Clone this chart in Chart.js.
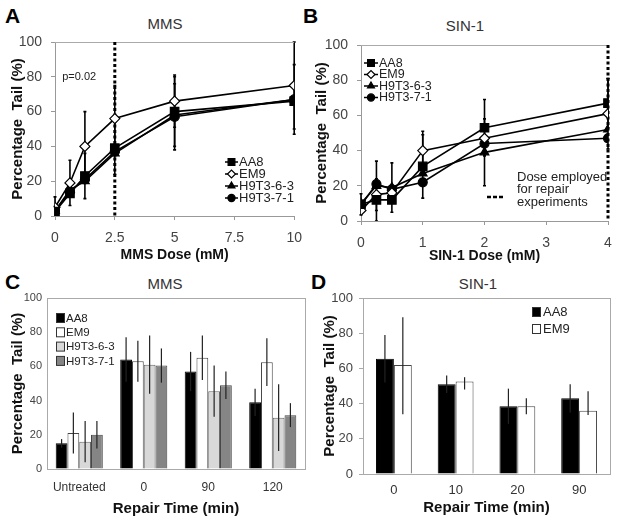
<!DOCTYPE html>
<html><head><meta charset="utf-8">
<script src="https://cdn.jsdelivr.net/npm/chart.js@4.4.1/dist/chart.umd.min.js"></script>
<style>
html,body{margin:0;padding:0;background:#fff;width:624px;height:521px;overflow:hidden;font-family:'Liberation Sans',Arial,sans-serif}
.p{position:absolute}
.lab{position:absolute;font-weight:bold;font-size:21px;color:#000;line-height:1}
.ttl{position:absolute;font-size:15px;color:#333;line-height:1;transform:translateX(-50%)}
</style></head><body>
<div class="lab" style="left:5px;top:5px">A</div>
<div class="lab" style="left:303px;top:5px">B</div>
<div class="lab" style="left:5px;top:271px">C</div>
<div class="lab" style="left:311px;top:271px">D</div>
<div class="ttl" style="left:165px;top:16px">MMS</div>
<div class="ttl" style="left:465px;top:18px">SIN-1</div>
<div class="ttl" style="left:165px;top:276px">MMS</div>
<div class="ttl" style="left:478px;top:276px">SIN-1</div>
<div class="p" style="left:0;top:0;width:312px;height:264px"><canvas id="cA"></canvas></div>
<div class="p" style="left:312px;top:0;width:312px;height:265px"><canvas id="cB"></canvas></div>
<div class="p" style="left:0;top:262px;width:312px;height:259px"><canvas id="cC"></canvas></div>
<div class="p" style="left:312px;top:262px;width:312px;height:259px"><canvas id="cD"></canvas></div>
<script>
// ---------- DATA ----------
const seriesNames = ['AA8', 'EM9', 'H9T3-6-3', 'H9T3-7-1'];
// Panel A: MMS dose response
const doseMMS = [0, 0.625, 1.25, 2.5, 5, 10];
const mmsAA8 = [2.5, 13, 23, 39, 60, 66];
const mmsEM9 = [5, 19, 40, 56, 66, 75];
const mmsH63 = [3, 15, 20, 36, 58, 67];
const mmsH71 = [3, 14, 21, 37, 57, 67];
const mmsAA8Err = [3, 0, 13, 15, 20, 0];
const mmsEM9Err = [6, 13, 20, 19, 15, 25];
const mmsH63Err = [0, 0, 0, 0, 0, 20];
const mmsH71Err = [0, 0, 0, 0, 19, 0];
const mmsDoseEmployed = 2.5;
const mmsXTicks = [0, 2.5, 5, 7.5, 10];
// Panel B: SIN-1 dose response
const doseSIN = [0, 0.25, 0.5, 1, 2, 4];
const sinAA8 = [9.5, 12, 12, 31, 53, 67];
const sinEM9 = [6, 15, 16, 40, 47, 61];
const sinH63 = [10, 20, 19, 27, 39, 52];
const sinH71 = [9, 21, 18, 22, 44, 47];
const sinAA8Err = [6, 12, 0, 18, 16, 14];
const sinEM9Err = [0, 0, 0, 11, 0, 20];
const sinH63Err = [0, 14, 14, 0, 19, 0];
const sinH71Err = [0, 0, 0, 0, 0, 0];
const sinDoseEmployed = 4;
// Panel C: MMS repair
const repairC = ['Untreated', '0', '90', '120'];
const cAA8 = [15, 64, 57, 39];
const cEM9 = [21, 63, 65, 62.5];
const cH63 = [16, 61, 45.5, 30];
const cH71 = [20, 60.5, 49, 31.5];
const cAA8Err = [2.5, 13, 11.5, 8];
const cEM9Err = [12, 12, 13, 14];
const cH63Err = [12, 17, 15, 19.5];
const cH71Err = [8, 10, 8, 7];
// Panel D: SIN-1 repair
const repairD = ['0', '10', '20', '90'];
const dAA8 = [65.5, 51, 38.5, 43];
const dEM9 = [62, 52.5, 38.5, 36];
const dAA8Err = [13.5, 5, 10, 8];
const dEM9ErrHi = [27, 2.5, 4.5, 11];
const dEM9ErrLo = [28, 4.5, 4.5, 2.5];
const yTitle = 'Percentage  Tail (%)';

// ---------- PLUGINS ----------
const FONT = "'Liberation Sans', Arial, sans-serif";
function drawErrors(chart) {
  const o = chart.options.plugins.errorBars || {};
  const ctx = chart.ctx, ys = chart.scales.y, ca = chart.chartArea;
  ctx.save();
  ctx.beginPath(); ctx.rect(ca.left - 5, ca.top - 1, ca.right - ca.left + 10, ca.bottom - ca.top + 1); ctx.clip();
  chart.data.datasets.forEach((ds, i) => {
    if (!ds.errHi) return;
    const meta = chart.getDatasetMeta(i);
    meta.data.forEach((el, j) => {
      const raw = ds.data[j]; const v = (typeof raw === 'object') ? raw.y : raw;
      const hi = ds.errHi[j], lo = ds.errLo ? ds.errLo[j] : hi;
      if (!hi && !lo) return;
      const x = el.x, y1 = ys.getPixelForValue(v + hi), y2 = ys.getPixelForValue(v - lo);
      ctx.strokeStyle = o.color || '#000'; ctx.lineWidth = o.width || 1.5;
      ctx.beginPath(); ctx.moveTo(x, y1); ctx.lineTo(x, y2);
      if (o.cap) { ctx.moveTo(x - o.cap, y1); ctx.lineTo(x + o.cap, y1); ctx.moveTo(x - o.cap, y2); ctx.lineTo(x + o.cap, y2); }
      ctx.stroke();
    });
  });
  ctx.restore();
}
const errorBarsPlugin = {
  id: 'errorBars',
  beforeDatasetsDraw(chart) { if (chart.config.type === 'line') drawErrors(chart); },
  afterDatasetsDraw(chart) { if (chart.config.type === 'bar') drawErrors(chart); }
};
const extrasPlugin = {
  id: 'extras',
  beforeDatasetsDraw(chart) {
    const o = chart.options.plugins.extras || {};
    const ctx = chart.ctx, ca = chart.chartArea;
    ctx.save();
    if (o.box) {
      ctx.strokeStyle = o.box; ctx.lineWidth = 1;
      ctx.strokeRect(ca.left + 0.5, ca.top + 0.5, ca.right - ca.left, ca.bottom - ca.top);
    }
    if (o.topLine) {
      ctx.strokeStyle = o.topLine; ctx.lineWidth = 1;
      ctx.beginPath(); ctx.moveTo(ca.left, ca.top + 0.5); ctx.lineTo(ca.right, ca.top + 0.5); ctx.stroke();
    }
    if (o.refX !== undefined) {
      const x = chart.scales.x.getPixelForValue(o.refX);
      ctx.strokeStyle = '#000'; ctx.lineWidth = 3; ctx.setLineDash([3, 2.5]);
      ctx.beginPath(); ctx.moveTo(x, chart.scales.y.getPixelForValue(100)); ctx.lineTo(x, chart.scales.y.getPixelForValue(0)); ctx.stroke();
      ctx.setLineDash([]);
    }
    ctx.restore();
  },
  afterDraw(chart) {
    const o = chart.options.plugins.extras || {};
    const ctx = chart.ctx;
    ctx.save();
    ctx.fillStyle = '#222'; ctx.textBaseline = 'middle';
    if (o.legend) {
      const L = o.legend;
      ctx.font = L.font + 'px ' + FONT;
      chart.data.datasets.forEach((ds, i) => {
        const y = L.y + i * L.gap;
        if (L.kind === 'line') {
          ctx.strokeStyle = '#000'; ctx.lineWidth = 1.5;
          ctx.beginPath(); ctx.moveTo(L.x, y); ctx.lineTo(L.x + L.len, y); ctx.stroke();
          ctx.fillStyle = ds.pointBackgroundColor; ctx.strokeStyle = '#000'; ctx.lineWidth = 1.2;
          Chart.helpers.drawPoint(ctx, {pointStyle: ds.pointStyle, radius: ds.pointRadius * 0.8, borderWidth: 1.2, rotation: 0}, L.x + L.len / 2, y);
          ctx.fillStyle = '#222';
          ctx.fillText(ds.label, L.x + L.len + 1, y + 0.5);
        } else {
          ctx.fillStyle = ds.backgroundColor; ctx.strokeStyle = '#333'; ctx.lineWidth = 1;
          ctx.fillRect(L.x + 0.5, y - 4.5, 8, 9); ctx.strokeRect(L.x + 0.5, y - 4.5, 8, 9);
          ctx.fillStyle = '#222';
          ctx.fillText(ds.label, L.x + L.tx, y + 0.5);
        }
      });
    }
    if (o.note) {
      const N = o.note;
      ctx.font = N.font + 'px ' + FONT; ctx.textAlign = 'left';
      N.lines.forEach((t, i) => ctx.fillText(t, N.x, N.y + i * N.gap));
      if (N.dash) {
        ctx.strokeStyle = '#000'; ctx.lineWidth = 2.5; ctx.setLineDash([4, 2]);
        ctx.beginPath(); ctx.moveTo(N.dash[0], N.dash[2]); ctx.lineTo(N.dash[1], N.dash[2]); ctx.stroke();
        ctx.setLineDash([]);
      }
    }
    if (o.text) {
      const T = o.text;
      ctx.font = T.font + 'px ' + FONT; ctx.textAlign = 'left';
      ctx.fillText(T.str, chart.scales.x.getPixelForValue(T.x), chart.scales.y.getPixelForValue(T.y));
    }
    ctx.restore();
  }
};
Chart.register(errorBarsPlugin, extrasPlugin);
Chart.defaults.font.family = FONT;
Chart.defaults.animation = false;

function lineDs(label, xs, ys, errs, style, radius, fill) {
  return {
    label, data: xs.map((x, i) => ({x, y: ys[i]})), errHi: errs,
    borderColor: '#000', borderWidth: 1.6, tension: 0,
    pointStyle: style, pointRadius: radius, pointBackgroundColor: fill,
    pointBorderColor: '#000', pointBorderWidth: 1.2
  };
}
function lineOpts(cfg) {
  return {
    responsive: true, maintainAspectRatio: false,
    layout: {padding: cfg.pad},
    plugins: {legend: {display: false}, tooltip: {enabled: false},
      errorBars: {color: '#000', width: 1.6, cap: 1.5}, extras: cfg.extras},
    scales: {
      x: {type: 'linear', min: cfg.xmin, max: cfg.xmax,
        afterFit: s => { s.height = cfg.xh; },
        afterBuildTicks: s => { if (cfg.xticks) s.ticks = cfg.xticks.map(v => ({value: v})); },
        ticks: {stepSize: cfg.xstep, color: '#444', font: {size: 14}, padding: cfg.xtp, maxRotation: 0},
        grid: {drawOnChartArea: false, drawTicks: true, tickLength: 4, color: '#999'},
        border: {color: '#999'},
        title: {display: true, text: cfg.xtitle, color: '#111', font: {size: 14, weight: 'bold'}, padding: {top: 0, bottom: cfg.xtb}}},
      y: {min: 0, max: 100,
        afterFit: s => { s.width = cfg.yw; },
        ticks: {stepSize: 20, color: '#444', font: {size: 14}, padding: cfg.ytp},
        grid: {drawOnChartArea: false, drawTicks: true, tickLength: 4, color: '#999'},
        border: {color: '#999'},
        title: {display: true, text: yTitle, color: '#111', font: {size: 15, weight: 'bold'}, padding: {top: cfg.ytt, bottom: 0}}}
    }
  };
}

new Chart(document.getElementById('cA'), {
  type: 'line',
  data: {datasets: [
    lineDs(seriesNames[0], doseMMS, mmsAA8, mmsAA8Err, 'rect', 6, '#000'),
    lineDs(seriesNames[1], doseMMS, mmsEM9, mmsEM9Err, 'rectRot', 5, '#fff'),
    lineDs(seriesNames[2], doseMMS, mmsH63, mmsH63Err, 'triangle', 5, '#000'),
    lineDs(seriesNames[3], doseMMS, mmsH71, mmsH71Err, 'circle', 4.5, '#000')
  ]},
  options: lineOpts({pad: {top: 42, right: 12, left: 0, bottom: 0}, xmin: 0, xmax: 10, xticks: mmsXTicks,
    xh: 48, xtp: 10, xtb: 0, xtitle: 'MMS Dose (mM)', yw: 55, ytp: 9, ytt: 9,
    extras: {topLine: '#aaa', refX: mmsDoseEmployed,
      legend: {kind: 'line', x: 225, y: 162, gap: 12, len: 13, font: 13},
      text: {str: 'p=0.02', x: 0.3, y: 80, font: 11}}})
});

new Chart(document.getElementById('cB'), {
  type: 'line',
  data: {datasets: [
    lineDs(seriesNames[0], doseSIN, sinAA8, sinAA8Err, 'rect', 6, '#000'),
    lineDs(seriesNames[1], doseSIN, sinEM9, sinEM9Err, 'rectRot', 5, '#fff'),
    lineDs(seriesNames[2], doseSIN, sinH63, sinH63Err, 'triangle', 5, '#000'),
    lineDs(seriesNames[3], doseSIN, sinH71, sinH71Err, 'circle', 4.5, '#000')
  ]},
  options: lineOpts({pad: {top: 45, right: 16, left: 0, bottom: 0}, xmin: 0, xmax: 4, xstep: 1,
    xh: 44, xtp: 10, xtb: 0, xtitle: 'SIN-1 Dose (mM)', yw: 49, ytp: 9, ytt: 1,
    extras: {topLine: '#aaa', refX: sinDoseEmployed,
      legend: {kind: 'line', x: 52, y: 63, gap: 11.5, len: 14, font: 12.5},
      note: {lines: ['Dose employed', 'for repair', 'experiments'], x: 205, y: 177, gap: 12.5, font: 13, dash: [175, 192, 197]}}})
});

function barDs(label, vals, hi, lo, fill, border) {
  return {label, data: vals, errHi: hi, errLo: lo, backgroundColor: fill, borderColor: border, borderWidth: 1,
    barPercentage: 1};
}
function barOpts(cfg) {
  return {
    responsive: true, maintainAspectRatio: false,
    layout: {padding: cfg.pad},
    datasets: {bar: {categoryPercentage: cfg.cat, barPercentage: 1}},
    plugins: {legend: {display: false}, tooltip: {enabled: false},
      errorBars: {color: '#222', width: 1.2, cap: 0}, extras: cfg.extras},
    scales: {
      x: {afterFit: s => { s.height = cfg.xh; },
        ticks: {color: '#333', font: {size: cfg.xfs}, padding: cfg.xtp},
        grid: {display: false, drawTicks: false},
        border: {color: '#aaa'},
        title: {display: true, text: 'Repair Time (min)', color: '#111', font: {size: 15, weight: 'bold'}, padding: {top: 0, bottom: cfg.xtb}}},
      y: {min: 0, max: 100,
        afterFit: s => { s.width = cfg.yw; },
        ticks: {stepSize: 20, color: '#444', font: {size: cfg.yfs}, padding: cfg.ytp},
        grid: {drawOnChartArea: false, drawTicks: cfg.yticks, tickLength: 4, color: '#aaa'},
        border: {color: '#aaa'},
        title: {display: true, text: yTitle, color: '#111', font: {size: 15, weight: 'bold'}, padding: {top: 9, bottom: 0}}}
    }
  };
}

new Chart(document.getElementById('cC'), {
  type: 'bar',
  data: {labels: repairC, datasets: [
    barDs(seriesNames[0], cAA8, cAA8Err, null, '#000', '#000'),
    barDs(seriesNames[1], cEM9, cEM9Err, null, '#fff', '#444'),
    barDs(seriesNames[2], cH63, cH63Err, null, '#d8d8d8', '#666'),
    barDs(seriesNames[3], cH71, cH71Err, null, '#858585', '#444')
  ]},
  options: barOpts({pad: {top: 36, right: 7, left: 0, bottom: 0}, cat: 0.73, xh: 52, xfs: 12, xtp: 11, xtb: 3,
    yw: 47, yfs: 11, ytp: 5, yticks: false,
    extras: {box: '#aaa', legend: {kind: 'bar', x: 56, y: 56, gap: 14.3, font: 11.5, tx: 10}}})
});

new Chart(document.getElementById('cD'), {
  type: 'bar',
  data: {labels: repairD, datasets: [
    barDs(seriesNames[0], dAA8, dAA8Err, null, '#000', '#000'),
    barDs(seriesNames[1], dEM9, dEM9ErrHi, dEM9ErrLo, '#fff', '#444')
  ]},
  options: barOpts({pad: {top: 36, right: 14, left: 0, bottom: 0}, cat: 0.58, xh: 47, xfs: 13, xtp: 9, xtb: 4,
    yw: 51, yfs: 13, ytp: 6, yticks: true,
    extras: {box: '#aaa', legend: {kind: 'bar', x: 220, y: 50, gap: 17, font: 13, tx: 11}}})
});
</script>
</body></html>
